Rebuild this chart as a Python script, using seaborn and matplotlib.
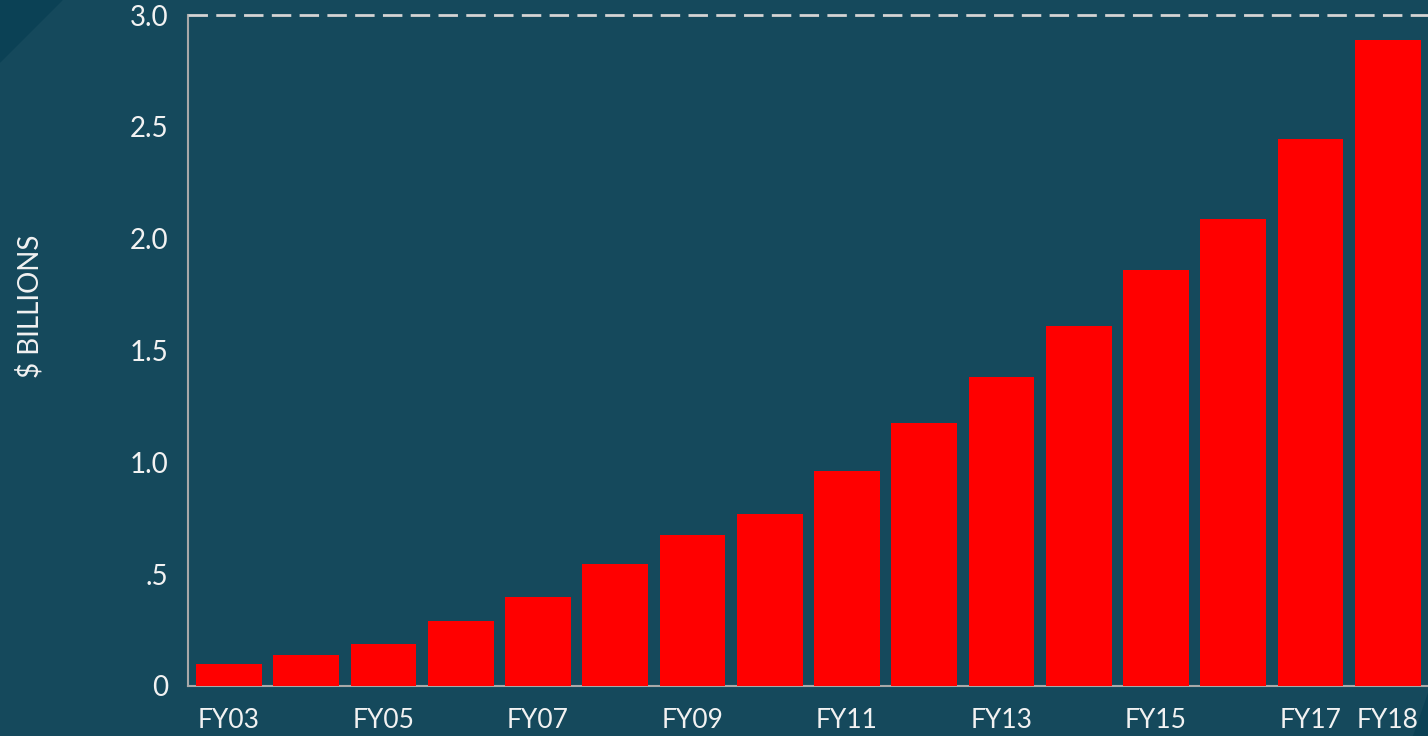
import matplotlib
matplotlib.use('Agg')
import matplotlib.pyplot as plt
from matplotlib.patches import Polygon
import seaborn as sns
import pandas as pd

# datos
years = ['FY03', 'FY04', 'FY05', 'FY06', 'FY07', 'FY08', 'FY09', 'FY10',
         'FY11', 'FY12', 'FY13', 'FY14', 'FY15', 'FY16', 'FY17', 'FY18']
values = [0.10, 0.14, 0.19, 0.29, 0.40, 0.545, 0.675, 0.77,
          0.96, 1.175, 1.38, 1.61, 1.86, 2.09, 2.445, 2.89]
shown = ['FY03', 'FY05', 'FY07', 'FY09', 'FY11', 'FY13', 'FY15', 'FY17', 'FY18']
yticks = [0, 0.5, 1.0, 1.5, 2.0, 2.5, 3.0]
ylabels = ['0', '.5', '1.0', '1.5', '2.0', '2.5', '3.0']

bg = '#15495c'
txt = '#f2f2f2'

sns.set_style('white')
plt.rcParams['font.family'] = ['Lato', 'DejaVu Sans']

fig = plt.figure(figsize=(14.28, 7.36), dpi=100, facecolor=bg)
ax = fig.add_axes([188/1428, 50/736, 1 - 188/1428, 671/736])
ax.set_facecolor(bg)

# esquinas oscuras
fig.patches.append(Polygon([[0, 1], [62/1428, 1], [0, 1 - 62/736]], closed=True,
                           transform=fig.transFigure, color='#0b4155', zorder=0))
fig.patches.append(Polygon([[1413/1428, 0], [1, 0], [1, 43/736]], closed=True,
                           transform=fig.transFigure, color='#0b4155', zorder=0))

df = pd.DataFrame({'year': years, 'value': values})
sns.barplot(data=df, x='year', y='value', color='#ff0000', saturation=1,
            width=0.85, linewidth=0, ax=ax, zorder=3)

ax.set_xlim(-0.53, len(years) - 0.48)
ax.set_ylim(0, 3.0)
ax.set_yticks(yticks)
ax.set_yticklabels(ylabels)
ax.set_xticks(range(len(years)))
ax.set_xticklabels([y if y in shown else '' for y in years])
ax.set_xlabel('')
ax.set_ylabel('')
ax.tick_params(axis='y', length=0, pad=14, labelsize=20, labelcolor=txt)
ax.tick_params(axis='x', length=0, pad=16, labelsize=19, labelcolor=txt)

for s in ['top', 'right']:
    ax.spines[s].set_visible(False)
ax.spines['left'].set_color('#a8a8a8')
ax.spines['left'].set_linewidth(1.5)
ax.spines['bottom'].set_color('#a8a8a8')
ax.spines['bottom'].set_linewidth(1.5)

ax.axhline(3.0, color='#d4d4d4', lw=2, linestyle=(0, (7, 3)), clip_on=False, zorder=4)

fig.text(30/1428, 1 - 306/736, '$ BILLIONS', rotation=90, ha='center', va='center',
         fontsize=20, color=txt)

fig.savefig('out.png', dpi=100, facecolor=bg)
